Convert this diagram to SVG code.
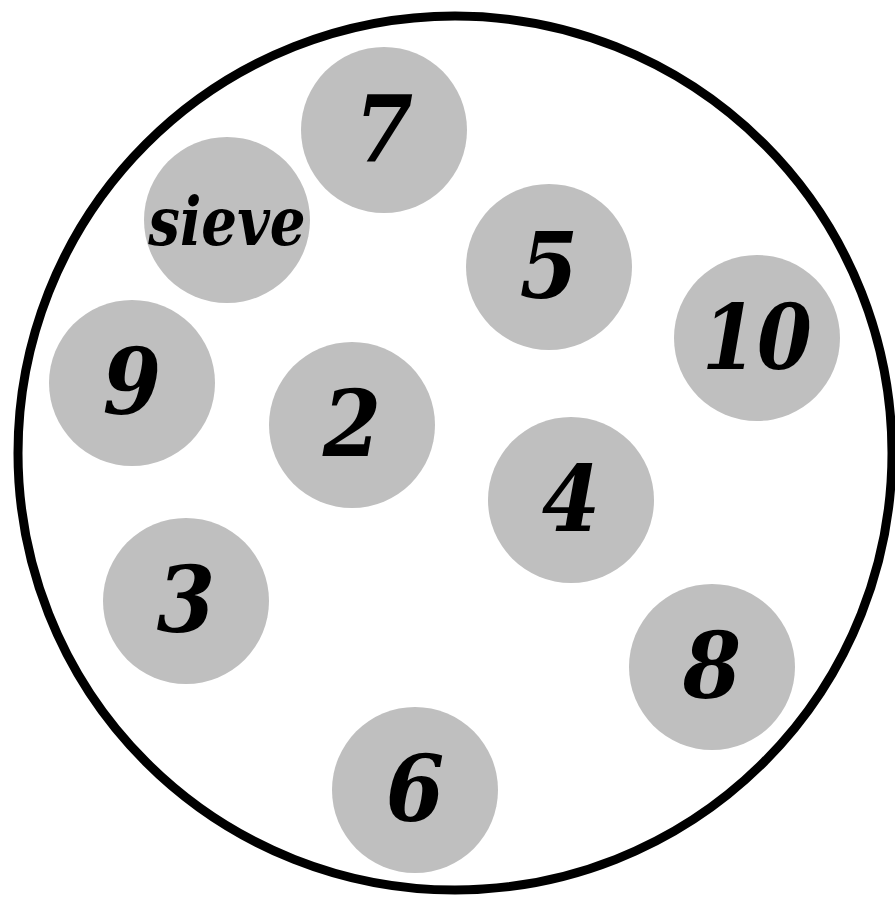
<svg xmlns="http://www.w3.org/2000/svg" width="895" height="901" viewBox="0 0 895 901">
<style>
.n{fill:#bfbfbf}
.t{font-family:"DejaVu Serif",serif;font-weight:bold;font-style:italic;font-size:84px;text-anchor:middle;fill:#000}
.s{font-size:58px}
</style>
<rect width="895" height="901" fill="#fff"/>
<circle cx="455" cy="453" r="437" fill="#fff" stroke="#000" stroke-width="9"/>
<g id="connectors"/>
<g id="n7"><circle class="n" cx="384" cy="130" r="83"/><text class="t" x="384" y="161" transform="translate(384 161) scale(1 1.08) translate(-384 -161)">7</text></g>
<g id="nsieve"><circle class="n" cx="227" cy="220" r="83"/><text class="t s" x="227" y="245" transform="translate(227 245) scale(0.97 1.15) translate(-227 -245)">sieve</text></g>
<g id="n5"><circle class="n" cx="549" cy="267" r="83"/><text class="t" x="549" y="298" transform="translate(549 298) scale(1 1.08) translate(-549 -298)">5</text></g>
<g id="n10"><circle class="n" cx="757" cy="338" r="83"/><text class="t" x="757" y="369" transform="translate(757 369) scale(0.94 1.08) translate(-757 -369)">10</text></g>
<g id="n9"><circle class="n" cx="132" cy="383" r="83"/><text class="t" x="132" y="414" transform="translate(132 414) scale(1 1.08) translate(-132 -414)">9</text></g>
<g id="n2"><circle class="n" cx="352" cy="425" r="83"/><text class="t" x="352" y="456" transform="translate(352 456) scale(1 1.08) translate(-352 -456)">2</text></g>
<g id="n4"><circle class="n" cx="571" cy="500" r="83"/><text class="t" x="571" y="531" transform="translate(571 531) scale(1 1.08) translate(-571 -531)">4</text></g>
<g id="n3"><circle class="n" cx="186" cy="601" r="83"/><text class="t" x="186" y="632" transform="translate(186 632) scale(1 1.08) translate(-186 -632)">3</text></g>
<g id="n8"><circle class="n" cx="712" cy="667" r="83"/><text class="t" x="712" y="698" transform="translate(712 698) scale(1 1.08) translate(-712 -698)">8</text></g>
<g id="n6"><circle class="n" cx="415" cy="790" r="83"/><text class="t" x="415" y="821" transform="translate(415 821) scale(1 1.08) translate(-415 -821)">6</text></g>
</svg>
